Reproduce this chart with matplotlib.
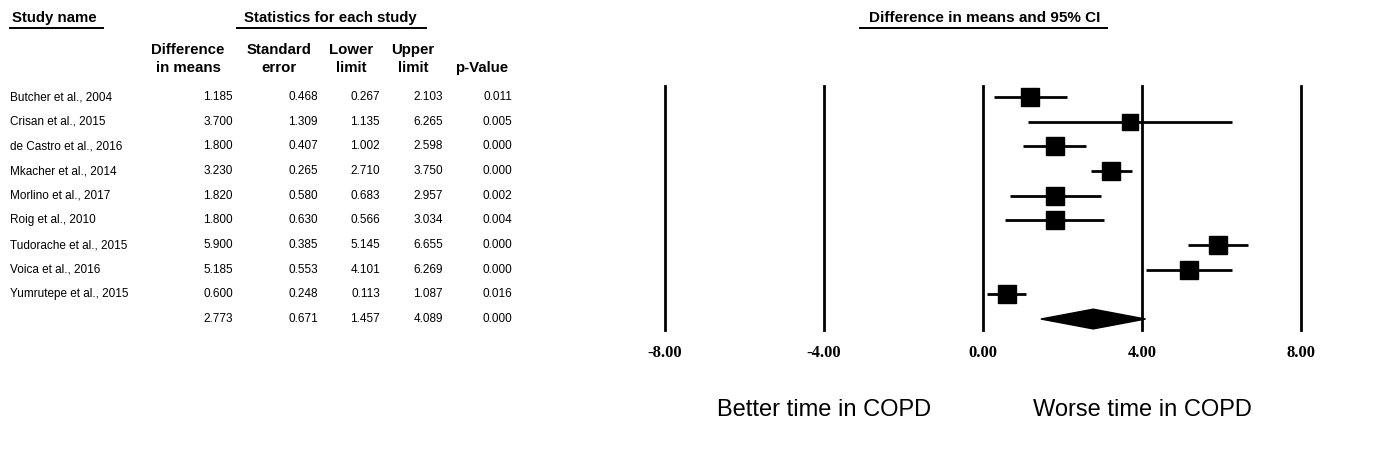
"""Forest plot: difference in means (COPD vs control) with 95% CI, CMA-style layout."""

import matplotlib

matplotlib.use("Agg")
import matplotlib.pyplot as plt
from matplotlib import transforms
from matplotlib.lines import Line2D
from matplotlib.patches import Polygon

studies = [
    "Butcher et al., 2004",
    "Crisan et al., 2015",
    "de Castro et al., 2016",
    "Mkacher et al., 2014",
    "Morlino et al., 2017",
    "Roig et al., 2010",
    "Tudorache et al., 2015",
    "Voica et al., 2016",
    "Yumrutepe et al., 2015",
]
diff = [1.185, 3.700, 1.800, 3.230, 1.820, 1.800, 5.900, 5.185, 0.600]
se = [0.468, 1.309, 0.407, 0.265, 0.580, 0.630, 0.385, 0.553, 0.248]
lower = [0.267, 1.135, 1.002, 2.710, 0.683, 0.566, 5.145, 4.101, 0.113]
upper = [2.103, 6.265, 2.598, 3.750, 2.957, 3.034, 6.655, 6.269, 1.087]
pval = [0.011, 0.005, 0.000, 0.000, 0.002, 0.004, 0.000, 0.000, 0.016]
# relative box size (points) as drawn by the software
box_pt = [13, 12, 13.5, 13.5, 13.5, 13, 13.5, 13.5, 13.5]

summary = {"diff": 2.773, "se": 0.671, "lower": 1.457, "upper": 4.089, "p": 0.000}

xticks = [-8, -4, 0, 4, 8]
side_labels = ["Better time in COPD", "Worse time in COPD"]

W, H = 1378, 466
ROW0, ROW_STEP = 97, 24.67  # pixel y of first row and row spacing
SANS = ["Liberation Sans", "DejaVu Sans"]
HEAD_SIZE = 10.8
BODY_SIZE = 8.5

fig = plt.figure(figsize=(W / 100, H / 100), dpi=100)
fig.patch.set_facecolor("white")

# overlay in pixel coordinates for the text table
ov = fig.add_axes([0, 0, 1, 1])
ov.set_xlim(0, W)
ov.set_ylim(H, 0)
ov.axis("off")

# forest axes: -8 at x=665, 8 at x=1301, lines from y=86 to 330
top_px, bot_px = 86, 330
ax = fig.add_axes([665 / W, 1 - bot_px / H, 636 / W, (bot_px - top_px) / H])
ax.set_xlim(-8, 8)
ax.set_ylim((bot_px - ROW0) / ROW_STEP, (top_px - ROW0) / ROW_STEP)
for s in ax.spines.values():
    s.set_visible(False)
ax.set_yticks([])
ax.set_xticks(xticks)
ax.set_xticklabels([f"{t:.2f}" for t in xticks])
ax.tick_params(axis="x", length=0, pad=11)
for lab in ax.get_xticklabels():
    lab.set_fontfamily(["Liberation Serif", "DejaVu Serif"])
    lab.set_fontweight("bold")
    lab.set_fontsize(12)
ax.patch.set_alpha(0)

for t in xticks:
    ax.axvline(t, color="black", lw=2, zorder=1, clip_on=False)

rows = list(range(len(studies)))
ax.hlines(rows, lower, upper, color="black", lw=2, zorder=2)
for r, d, b in zip(rows, diff, box_pt):
    ax.plot(d, r, marker="s", ms=b, color="black", mec="black", zorder=3)

# summary diamond
srow = len(studies)
hh = 0.4
ax.add_patch(
    Polygon(
        [
            (summary["lower"], srow),
            (summary["diff"], srow - hh),
            (summary["upper"], srow),
            (summary["diff"], srow + hh),
        ],
        closed=True,
        color="black",
        zorder=3,
        clip_on=False,
    )
)

# side labels under the axis
blend = transforms.blended_transform_factory(ax.transData, ov.transData)
ax.text(-4, 410, side_labels[0], transform=blend, ha="center", va="center",
        fontsize=17, family=SANS)
ax.text(4, 410, side_labels[1], transform=blend, ha="center", va="center",
        fontsize=17, family=SANS)


# header block
def header(x, y, txt, ha="left", size=HEAD_SIZE):
    ov.text(x, y, txt, ha=ha, va="center", fontsize=size, fontweight="bold",
            family=SANS)


def underline(x0, x1, y=28):
    ov.add_line(Line2D([x0, x1], [y, y], color="black", lw=1.4))


header(12, 18, "Study name")
underline(10, 103)
header(330, 18, "Statistics for each study", ha="center")
underline(237, 426)
header(985, 18, "Difference in means and 95% CI", ha="center", size=11)
underline(860, 1107)

col_heads = [("Difference", "in means"), ("Standard", "error"), ("Lower", "limit"),
             ("Upper", "limit"), ("", "p-Value")]
col_centers = [188, 279, 351, 413, 482]
col_right = [233, 318, 380, 443, 512]
for (l1, l2), cx in zip(col_heads, col_centers):
    if l1:
        header(cx, 50, l1, ha="center")
    header(cx, 68, l2, ha="center")

# table body
body_cols = [diff, se, lower, upper, pval]
for i, name in enumerate(studies):
    y = ROW0 + i * ROW_STEP
    ov.text(10, y, name, ha="left", va="center", fontsize=BODY_SIZE, family=SANS)
    for vals, xr in zip(body_cols, col_right):
        ov.text(xr, y, f"{vals[i]:.3f}", ha="right", va="center",
                fontsize=BODY_SIZE, family=SANS)
y = ROW0 + srow * ROW_STEP
for key, xr in zip(["diff", "se", "lower", "upper", "p"], col_right):
    ov.text(xr, y, f"{summary[key]:.3f}", ha="right", va="center",
            fontsize=BODY_SIZE, family=SANS)

fig.savefig("out.png", dpi=100, facecolor="white")
